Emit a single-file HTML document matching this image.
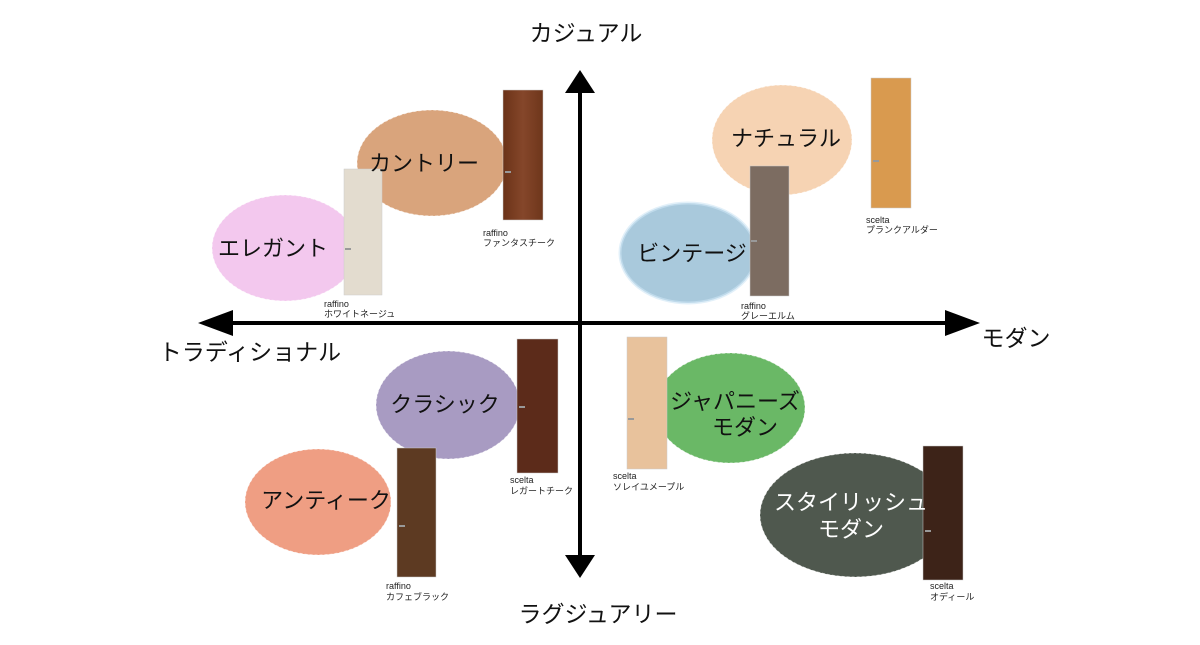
<!DOCTYPE html>
<html><head><meta charset="utf-8"><style>
body{margin:0;background:#fff;}
svg text{font-family:"Liberation Sans","Noto Sans CJK JP",sans-serif;}
</style></head><body>
<svg width="1200" height="640" viewBox="0 0 1200 640" xmlns="http://www.w3.org/2000/svg">
<defs>
<linearGradient id="g1" x1="0" x2="1"><stop offset="0" stop-color="#6b3318"/><stop offset=".5" stop-color="#85462a"/><stop offset="1" stop-color="#6e361b"/></linearGradient>
</defs>
<line x1="580" y1="90" x2="580" y2="556" stroke="#000" stroke-width="4"/>
<polygon points="580,70 565,93 595,93" fill="#000"/>
<polygon points="580,578 565,555 595,555" fill="#000"/>
<line x1="220" y1="323" x2="958" y2="323" stroke="#000" stroke-width="4"/>
<polygon points="198,323 233,310 233,336" fill="#000"/>
<polygon points="980,323 945,310 945,336" fill="#000"/>
<g font-size="23" fill="#111">
<text x="586" y="41" text-anchor="middle">カジュアル</text>
<text x="598" y="622" text-anchor="middle">ラグジュアリー</text>
<text x="250" y="360" text-anchor="middle">トラディショナル</text>
<text x="1016" y="346" text-anchor="middle">モダン</text>
</g>
<g stroke="#fff" stroke-opacity=".6" stroke-width="1" stroke-dasharray="3 2">
<ellipse cx="285" cy="248" rx="73" ry="53" fill="#f3c8ee"/>
<ellipse cx="432" cy="163" rx="75" ry="53" fill="#d9a47c"/>
<ellipse cx="782" cy="140" rx="70" ry="55" fill="#f6d3b3"/>
<ellipse cx="688" cy="253" rx="68" ry="50" fill="#a9c9dc" stroke="#cfe6f5" stroke-width="3" stroke-dasharray="none"/>
<ellipse cx="448" cy="405" rx="72" ry="54" fill="#a89bc2"/>
<ellipse cx="318" cy="502" rx="73" ry="53" fill="#ef9e83"/>
<ellipse cx="730" cy="408" rx="75" ry="55" fill="#6ab866"/>
<ellipse cx="855" cy="515" rx="95" ry="62" fill="#4f584e"/>
</g>
<g stroke="#ccc" stroke-width=".5">
<rect x="344" y="169" width="38" height="126" fill="#e3dccf"/>
<rect x="503" y="90" width="40" height="130" fill="url(#g1)"/>
<rect x="871" y="78" width="40" height="130" fill="#d99a4f"/>
<rect x="750" y="166" width="39" height="130" fill="#7c6c61"/>
<rect x="517" y="339" width="41" height="134" fill="#5c2b1a"/>
<rect x="397" y="448" width="39" height="129" fill="#5d3a22"/>
<rect x="627" y="337" width="40" height="132" fill="#e8c29c"/>
<rect x="923" y="446" width="40" height="134" fill="#3d2318"/>
</g>
<g fill="#999"><rect x="345" y="248" width="6" height="2"/><rect x="505" y="171" width="6" height="2"/><rect x="873" y="160" width="6" height="2"/><rect x="751" y="240" width="6" height="2"/><rect x="519" y="406" width="6" height="2"/><rect x="399" y="525" width="6" height="2"/><rect x="628" y="418" width="6" height="2"/><rect x="925" y="530" width="6" height="2"/></g>
<g font-size="22" fill="#111" text-anchor="middle">
<text x="273" y="256">エレガント</text>
<text x="424" y="171">カントリー</text>
<text x="786" y="146">ナチュラル</text>
<text x="692" y="261">ビンテージ</text>
<text x="445" y="412">クラシック</text>
<text x="326" y="508">アンティーク</text>
<text x="735" y="409">ジャパニーズ</text>
<text x="745" y="435">モダン</text>
<text x="851" y="510" fill="#fff">スタイリッシュ</text>
<text x="851" y="537" fill="#fff">モダン</text>
</g>
<g font-size="9" fill="#222">
<text x="324" y="307">raffino</text><text x="324" y="317">ホワイトネージュ</text>
<text x="483" y="236">raffino</text><text x="483" y="246">ファンタスチーク</text>
<text x="866" y="223">scelta</text><text x="866" y="233">プランクアルダー</text>
<text x="741" y="309">raffino</text><text x="741" y="319">グレーエルム</text>
<text x="510" y="483">scelta</text><text x="510" y="494">レガートチーク</text>
<text x="386" y="589">raffino</text><text x="386" y="600">カフェブラック</text>
<text x="613" y="479">scelta</text><text x="613" y="490">ソレイユメープル</text>
<text x="930" y="589">scelta</text><text x="930" y="600">オディール</text>
</g>
</svg>
</body></html>
